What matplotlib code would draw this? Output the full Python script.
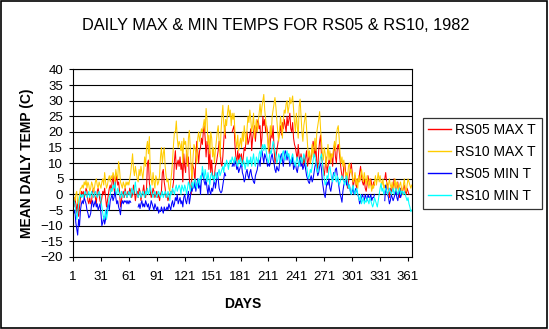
import matplotlib
matplotlib.use("Agg")
import matplotlib.pyplot as plt
import numpy as np
from matplotlib.lines import Line2D
from matplotlib.patches import Rectangle

nan = np.nan

plt.rcParams["font.family"] = ["Liberation Sans", "DejaVu Sans"]

# daily values, day 1..365 (deg C); nan = no reading
rs05_max = [
    -2, -4, -1, -3, -6, -2, -7, -4, -1, 1,
    0, 1, -1, 0, 2, 1, -2, -3, -1, -3,
    -2, 1, 2, 0, -1, -3, 1, 2, 0, -2,
    -3, -1, 1, 0, 2, -1, -4, -2, 0, 2,
    3, 1, 4, 6, 2, 0, 5, 6, 3, 4,
    1, -4, -2, 0, 1, -1, 2, 0, -1, 1,
    0, 2, 1, -1, 0, 3, 1, -2, 0, 1,
    -1, 2, 1, -2, 0, 1, 3, 0, -1, 2,
    10, 11, 4, 1, -1, 0, 2, 1, -1, 0,
    1, -1, 0, -2, 0, 1, 7, 8, 4, 2,
    -1, 0, -2, -1, 0, 1, 0, 2, 4, 11,
    14, 8, 10, 11, 9, 12, 8, 10, 4, 13,
    9, 7, 14, 10, 12, 5, 2, 0, 10, 9,
    8, 3, 12, 17, 14, 10, 14, 15, 18, 16,
    20, 22, 18, 12, 17, 16, 8, 14, 7, 11,
    6, 5, 6, 9, 10, 12, 14, 17, 15, 10,
    9, 12, 17, 22, 18, nan, nan, nan, nan, nan,
    nan, 20, 21, 22, 16, 12, 10, 14, 11, 13,
    11, 13, 9, 12, 15, 14, 18, 20, 16, 17,
    19, 21, 14, 18, 20, 22, 17, 21, 23, 24,
    21, 22, 15, 18, 25, 22, 24, 20, 22, 20,
    15, 13, 17, 20, 18, 22, 15, 10, 12, 14,
    16, 18, 20, 22, 19, 23, 21, 24, 22, 20,
    25, 22, 24, 26, 21, 20, 23, 18, 16, 15,
    13, 11, 16, 12, 10, 13, 11, 9, 12, 10,
    12, 14, 9, 11, 13, 10, 12, 14, 17, 15,
    12, 16, 10, 8, 14, 17, 19, 12, 10, 8,
    6, 9, 12, 7, 9, 11, 10, 13, 12, 9,
    14, 16, 12, 10, 15, 16, 14, 11, 8, 6,
    5, 9, 10, 7, 4, 2, 4, 6, 8, 10,
    7, 2, 4, 6, 3, 2, 5, 4, 7, 9,
    6, 4, 3, 5, 2, 1, 3, 6, 4, 3,
    5, 3, 2, 4, 3, nan, nan, nan, nan, nan,
    nan, nan, nan, nan, nan, 5, 7, 4, 3, 1,
    -1, 2, 0, 3, 1, 5, 3, 0, 2, 4,
    1, -1, 2, 0, 1, 2, 3, 1, 0, 2,
    1, 0, nan, nan, nan,
]

rs10_max = [
    0, -1, -2, 0, 1, -3, -2, 0, 2, 2,
    3, 2, 4, 3, 4.5, 2, 4, 3, 1, 2,
    4, 3, 1, 2, 4, 5, 3, 2, 4, 3,
    2, 4, 5, 3, 7, 4, 2, 3, 5, 6,
    4, 6, 5, 7, 6, 4, 8, 6, 5, 10.5,
    8, 4, 3, 2, 4, 3, 2, 4, 3, 4,
    3, 5, 7, 10, 13, 8, 6, 9, 7, 5,
    4, 8, 6, 9, 7, 5, 8, 12, 9, 15,
    17, 13, 18.5, 8, 5, 3, 7, 4, 2, 6,
    5, 3, 4, 6, 12, 15, 10, 13, 15, 9,
    6, 4, 5, 2, 1, 4, 7, 11, 16, 20,
    20, 23.5, 18, 15, 17, 16, 14, 17, 10, 18,
    16, 17, 13, 9, 18, 20.5, 15, 8, 5, 12,
    16, 15, 13, 10, 18, 20, 17, 19, 21, 20,
    22, 24, 20, 27.5, 24, 16, 19, 13, 20, 18,
    12, 15, 10, 14, 17, 20, 22, 17, 12, 20,
    25, 28.5, 23, 19, 24, 22, 26, 28.5, 25, 27,
    22, 26, 24, 26, 20, 17, 15, 19, 14, 16,
    18, 15, 20, 17, 22, 19, 16, 21, 25, 23,
    27, 24, 20, 22, 26, 18, 21, 24, 20, 23,
    26, 29, 25, 28, 30, 32, 27, 24, 21, 18,
    14, 17, 22, 19, 25, 27, 29, 31, 28, 24,
    20, 17, 21, 25, 22, 18, 24, 27, 26, 29,
    30, 26, 28, 31, 29, 30, 31.5, 27, 23, 20,
    26, 22, 18, 28, 30.5, 25, 20, 17, 22, 24,
    26, 21, 16, 12, 14, 10, 13, 16, 12, 15,
    18, 14, 20, 22, 24, 26.5, 21, 17, 13, 11,
    15, 13, 9, 12, 16, 11, 14, 10, 13, 12,
    15, 17, 14, 19, 21, 22, 18, 13, 10, 12,
    9, 11, 8, 6, 7, 5, 9, 10, 7, 8,
    6, 4, 5, 7, 3, 5, 2, 6, 4, 5,
    8, 6, 4, 7, 5, 3, 6, 4, 2, 5,
    3, 1, 3, 2, 4, 6, 3, 5, 7, 4,
    6, 4, 3, 5, 2, 3, 1, 4, 2, 3,
    5, 3, 2, 4, 1, 3, 5, 2, 4, 3,
    1, 3, 4, 2, 0, 3, 5, 2, 1, 3,
    5, 4, 3, 2, 3,
]

rs05_min = [
    -4, -6, -5, -9, -11, -13, -8, -10, -5, -3,
    -2, -3, -1, -2, -3, -5, -6, -7.5, -7, -6,
    -3, -2, -4, -3, -2, -4, -3, -5, -4, -3,
    -6, -10, -9, -7, -9.5, -8, -6, -4, -3, -5,
    -2, -1, 0, -2, -1, 1, -1, -3, -2, -4,
    -5, -6.5, -3, -2, -3, -2, -2.5, -2, -3, -2,
    -3, -2, -2.5, nan, nan, nan, nan, nan, nan, nan,
    -4, -3, -4.5, -3, -2, -4, -3, -4, -2, -3,
    -4, -3, -5, -4, -2, -3, -4, -5, -3, -4,
    -5, -4, -6, -5, -5.5, -4, -5, -6, -4, -5,
    -5, -4, -5, -3, -4, -5, -3, -2, -4, -3,
    -1, -2, 0, -3, -2, -1, -3, -2, -4, -1,
    0, -2, -3, -1, 1, -3, -1, 2, 1, 3,
    2, 4, 1, 3, 5, 2, 4, 0, 5, 7,
    6, 4, 3, 5, 2, 0, 3, 1, 0, 2,
    1, 3, 5, 2, 4, 7, 5, 2, 1, 0.5,
    1, 3, 5, 7, 6, nan, nan, nan, nan, nan,
    nan, 9, 10, 9, 11, 10, 8, 9, 7, 8,
    9, 10, 7, 6, 4, 5, 7, 8, 6, 5,
    7, 8, 6, 5, 4, 3.5, 6, 7, 8, 10,
    11, 9, 13, 14, 12, 10, 13, 12, 11, 9,
    10, 9, 10, 12, 13, 11, 10, 8, 7, 9,
    8, 7.5, 10, 12, 13, 11, 9, 12, 14, 13,
    11, 13, 12, 9, 11, 10, 12, 8, 9, 10,
    8, 7, 9, 10, 12, 9, 10, 8, 9, 10,
    8, 6, 5, 4, 3.5, 5, 6, 4, 5, 7,
    9, 10, 8, 6, 7, 9, 10, 8, 4, 2,
    0, -1, 2, 4, 3, 5, 2, 1, 3, 5,
    7, 6, 8, 8.5, 6, 4, 2, 0, -1, -2.5,
    1, 3, 4, 5, 3, 4, 2, 3, 1, 0,
    1, 2, 0, 1, 2, 1, 0, -1, -3, -2,
    -1, 0, -1, -2, 0, -1, -2, 0, -1, -1,
    0, -2, -1, -1, 0, nan, nan, nan, nan, nan,
    nan, nan, nan, nan, nan, -2, 3, 1, 0, -1,
    -3, -2, 0, -1, -2, -1, 0, 1, -1, -2,
    0, 2, -1, 0, 1, nan, nan, nan, nan, nan,
    nan, nan, nan, nan, nan,
]

rs10_min = [
    -1, -2, -3, -5, -8, -6, -3, -1, 0, -1,
    0, -1, 0, 1, 0, -1, 0, 1, -1, 0,
    1, 0, -1, 0, 1, 0, -1, 0, 1, 0,
    -2, -4, -6, -8, -7, -5, -8, -6, -3, -1,
    0, 2, 1, 3, 2, 4, 1, 0, 2, 1,
    0, -1, 1, 0, -1, 0, 1, 0, -1, 0,
    1, 0, -1, 2, 1, 0, 2, 4, 1, 0,
    -1, 0, 1, -1, 0, 1, 0, -1, 1, 0,
    2, 0, 1, 3, 1, 0, -1, 0, 1, 0,
    -1, 0, 1, 0, -1, 0, 1, -1, 0, 1,
    0, -1, 1, 0, -2, 1, 0, 2, 1, 0,
    2, 3, 1, 2, 3, 2, 0, 3, 2, 1,
    3, 2, 0, 2, 4, 3, 1, 3, 4, 2,
    4, 5, 3, 2, 4, 5, 3, 6, 5, 9,
    7, 5, 8, 6, 4, 7, 5, 3, 6, 7,
    5, 6, 4, 7, 6, 5, 7, 8, 6, 7,
    8, 9, 7, 10, 9, 11, 10, 8, 10, 11,
    10, 12, 11, 10, 12, 11, 10, 9, 11, 10,
    12, 10, 9, 11, 10, 8, 10, 12, 9, 11,
    10, 12, 9, 11, 13, 10, 9, 12, 11, 10,
    13, 14, 12, 15, 16, 14, 16, 15, 13, 11,
    10, 12, 14, 13, 15, 17, 16, 14, 12, 10,
    11, 13, 12, 10, 11, 13, 14, 12, 11, 13,
    14, 12, 13, 11, 10, 12, 13, 11, 10, 9,
    11, 12, 10, 9, 11, 12, 10, 11, 13, 12,
    10, 9, 7, 5, 6, 8, 7, 9, 11, 13,
    12, 10, 8, 7, 9, 10, 12, 13, 10, 7,
    5, 3, 4, 6, 5, 8, 9, 7, 5, 4,
    6, 7, 5, 4, 6, 5, 3, 4, 5, 6,
    5, 4, 3, 5, 6, 4, 2, 3, 1, 0,
    2, 3, 1, 0, 1, 2, 0, -1, -2, 0,
    -3, -2, -1, -3, -2, -2.5, -1, -2, -3, -1,
    -2, -3, -4, -3, -1, -2, -3, -4, -2, 0,
    2, 3.5, 1, 2, 0, 1, 2, 1, 0, 1,
    2, 1, 0, 1, 2, 0, 1, 2, 1, 0,
    1, 2, 0, 1, 1, 0, 1, 0, -1, -2,
    -1, -3, -4, -5.5, -5,
]

series_names = ["RS05 MAX T", "RS10 MAX T", "RS05 MIN T", "RS10 MIN T"]
series_colors = ["#ff0000", "#ffcc00", "#0000ff", "#00ffff"]
day_ticks = list(range(1, 366, 30))
temp_ticks = list(range(-20, 41, 5))

days = np.arange(1, 366)

fig = plt.figure(figsize=(5.49, 3.29), dpi=100)
ax = fig.add_axes([0.133, 0.219, 0.617, 0.570])

for values, name, color in zip([rs05_max, rs10_max, rs05_min, rs10_min],
                               series_names, series_colors):
    ax.plot(days, values, color=color, lw=0.75, label=name)

ax.set_xlim(1, 365)
ax.set_ylim(-20, 40)
ax.set_xticks(day_ticks)
ax.set_yticks(temp_ticks)
ax.yaxis.grid(True, color="black", lw=0.8)
ax.set_axisbelow(True)
for spine in ax.spines.values():
    spine.set_linewidth(0.8)
ax.tick_params(axis="both", direction="out", length=3, width=0.8,
               labelsize=9.5, colors="black")
ax.tick_params(axis="x", pad=7)
ax.tick_params(axis="y", pad=4)

ax.set_xlabel("DAYS", fontsize=10, fontweight="bold", labelpad=10)
ax.set_ylabel("MEAN DAILY TEMP (C)", fontsize=10, fontweight="bold", labelpad=5)
fig.text(0.502, 0.924, "DAILY MAX & MIN TEMPS FOR RS05 & RS10, 1982",
         ha="center", va="center", fontsize=11.8)

handles = [Line2D([], [], color=c, lw=1.0) for c in series_colors]
leg = fig.legend(handles, series_names, loc="center left",
                 bbox_to_anchor=(0.770, 0.504), fontsize=10,
                 frameon=True, fancybox=False, edgecolor="black",
                 handlelength=1.6, handletextpad=0.35, labelspacing=0.58,
                 borderpad=0.4, borderaxespad=0)
leg.get_frame().set_linewidth(0.9)

# outer chart border
fig.patches.append(Rectangle((0.002, 0.003), 0.995, 0.994, transform=fig.transFigure,
                             fill=False, edgecolor="black", lw=1.2))

fig.savefig("out.png", dpi=100)
